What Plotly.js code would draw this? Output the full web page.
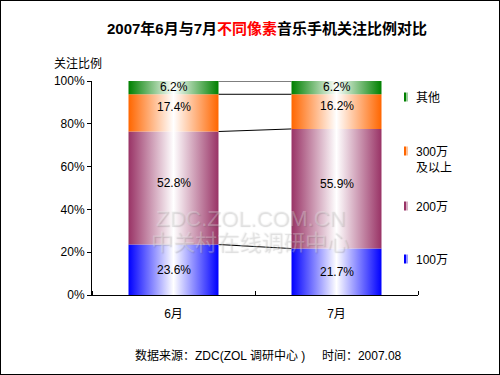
<!DOCTYPE html>
<html>
<head>
<meta charset="utf-8">
<script src="https://cdn.plot.ly/plotly-3.0.1.min.js"></script>
<style>
  html, body { margin: 0; padding: 0; background: #fff; }
  #chart { width: 498px; height: 373px; border: 1px solid #000; }
</style>
</head>
<body>
<div id="chart"></div>
<script>
// ---- data ----
const categories = ['6月', '7月'];
const seriesNames = ['100万', '200万', '300万及以上', '其他'];
const legendLabels = ['100万', '200万', '300万<br>及以上', '其他'];
const values100 = [23.6, 21.7];
const values200 = [52.8, 55.9];
const values300 = [17.4, 16.2];
const valuesOther = [6.2, 6.2];
const yTickVals = [0, 20, 40, 60, 80, 100];
const yTickText = ['0%', '20%', '40%', '60%', '80%', '100%'];

// ---- styles ----
const seriesValues = [values100, values200, values300, valuesOther];
const colors = ['#0000FF', '#993366', '#FF6600', '#008000'];
const lightColors = ['#9999FF', '#D6ADC2', '#FFC299', '#99CC99'];
const labelShift = [0, 5, 6, 1];
const legendY = [259, 206, 151, 97];       // pixel centers of legend first lines
const barWidth = 0.552;
const FONT = 'Liberation Sans, Arial, "Noto Sans CJK SC", sans-serif';

// pixel -> paper helpers (plot area: x 92..418, y 81..295 in page pixels)
const L = 91, T = 80, W = 326, H = 214;
const px = x => (x - 1 - L) / W;
const py = y => (T + H + 1 - y) / H;

const fillTraces = [];
const annotations = [];
const shapes = [];

// stacked segments drawn as filled polygons with horizontal gradient
const cum = categories.map(() => [0]);
seriesValues.forEach((vals, s) => {
  vals.forEach((v, i) => {
    const base = cum[i][cum[i].length - 1];
    const top = base + v;
    cum[i].push(top);
    const x0 = i - barWidth / 2, x1 = i + barWidth / 2;
    fillTraces.push({
      type: 'scatter', mode: 'lines',
      x: [x0, x1, x1, x0, x0],
      y: [base, base, top, top, base],
      fill: 'toself',
      fillcolor: colors[s],
      fillgradient: {
        type: 'horizontal',
        colorscale: [[0, colors[s]], [0.5, '#FFFFFF'], [1, colors[s]]]
      },
      line: { width: 0, color: colors[s] },
      name: seriesNames[s],
      showlegend: false,
      hoverinfo: 'text',
      text: categories[i] + ' ' + seriesNames[s] + ': ' + v.toFixed(1) + '%'
    });
    annotations.push({
      x: i, y: base + v / 2, xref: 'x', yref: 'y',
      xanchor: 'center', yanchor: 'middle',
      text: v.toFixed(1) + '%', showarrow: false,
      yshift: labelShift[s],
      font: { family: FONT, size: 12, color: '#000' }
    });
  });
});

// connector lines between the bars (one trace, segments separated by gaps)
const cx = [], cy = [];
for (let k = 1; k < cum[0].length; k++) {
  cx.push(barWidth / 2, 1 - barWidth / 2, null);
  cy.push(cum[0][k], cum[1][k], null);
}
const connector = {
  type: 'scatter', mode: 'lines', x: cx, y: cy,
  line: { color: '#000', width: 1 }, connectgaps: false,
  showlegend: false, hoverinfo: 'skip'
};
const traces = [connector].concat(fillTraces);

// custom legend
seriesNames.forEach((n, s) => {
  const yc = legendY[s];
  const segs = [[404, 406, colors[s]], [406, 408, lightColors[s]], [408, 410, '#FFFFFF']];
  segs.forEach(([a, b, c]) => {
    shapes.push({
      type: 'rect', xref: 'paper', yref: 'paper',
      x0: px(a), x1: px(b), y0: py(yc + 4.5), y1: py(yc - 4.5),
      fillcolor: c, line: { width: 0 }, layer: 'above'
    });
  });
  annotations.push({
    xref: 'paper', yref: 'paper', x: px(414), y: py(yc - 8),
    xanchor: 'left', yanchor: 'top', align: 'left',
    text: legendLabels[s], showarrow: false,
    font: { family: FONT, size: 12, color: '#000' }
  });
});

// y axis title
annotations.push({
  xref: 'paper', yref: 'paper', x: px(78), y: py(64),
  xanchor: 'center', yanchor: 'middle',
  text: '关注比例', showarrow: false,
  font: { family: FONT, size: 12, color: '#000' }
});

// watermark
const wmFont = { family: FONT, size: 22, color: 'rgba(240,240,240,0.3)', shadow: '1px 1px 1px rgba(90,90,90,0.7)' };
annotations.push({
  xref: 'paper', yref: 'paper', x: px(250), y: py(218),
  xanchor: 'center', yanchor: 'middle',
  text: 'ZDC.ZOL.COM.CN', showarrow: false, font: wmFont
});
annotations.push({
  xref: 'paper', yref: 'paper', x: px(250), y: py(242),
  xanchor: 'center', yanchor: 'middle',
  text: '中关村在线调研中心', showarrow: false, font: wmFont
});

// footer
annotations.push({
  xref: 'paper', yref: 'paper', x: px(133), y: py(355),
  xanchor: 'left', yanchor: 'middle',
  text: '数据来源：ZDC(ZOL 调研中心 )&nbsp;&nbsp;&nbsp;&nbsp;&nbsp;时间：2007.08', showarrow: false,
  font: { family: FONT, size: 12, color: '#000' }
});

const layout = {
  width: 498, height: 373,
  margin: { l: L, r: 498 - L - W, t: T, b: 373 - T - H },
  paper_bgcolor: '#FFFFFF', plot_bgcolor: '#FFFFFF',
  showlegend: false,
  title: {
    text: '<b>2007年6月与7月<span style="color:#FF0000">不同像素</span>音乐手机关注比例对比</b>',
    x: px(267), xanchor: 'center', xref: 'paper',
    y: 1 - 28 / 373, yanchor: 'middle',
    font: { family: FONT, size: 15, color: '#000' }
  },
  xaxis: {
    range: [-0.5, 1.5],
    tickmode: 'array', tickvals: [0, 1], ticktext: categories,
    ticks: '', showgrid: false, zeroline: false,
    ticklabelstandoff: 8,
    showline: true, linecolor: '#000', linewidth: 1,
    minor: { tickmode: 'array', tickvals: [-0.5, 0.5, 1.5], ticks: 'inside', ticklen: 4, tickcolor: '#000', showgrid: false },
    tickfont: { family: FONT, size: 12, color: '#000' },
    fixedrange: true
  },
  yaxis: {
    range: [0, 100],
    tickmode: 'array', tickvals: yTickVals, ticktext: yTickText,
    ticks: 'outside', ticklen: 4, tickcolor: '#000',
    showgrid: false, zeroline: false,
    showline: true, linecolor: '#000', linewidth: 1,
    tickfont: { family: FONT, size: 12, color: '#000' },
    fixedrange: true
  },
  annotations: annotations,
  shapes: shapes
};

Plotly.newPlot('chart', traces, layout, { displayModeBar: false, staticPlot: true });
</script>
</body>
</html>
